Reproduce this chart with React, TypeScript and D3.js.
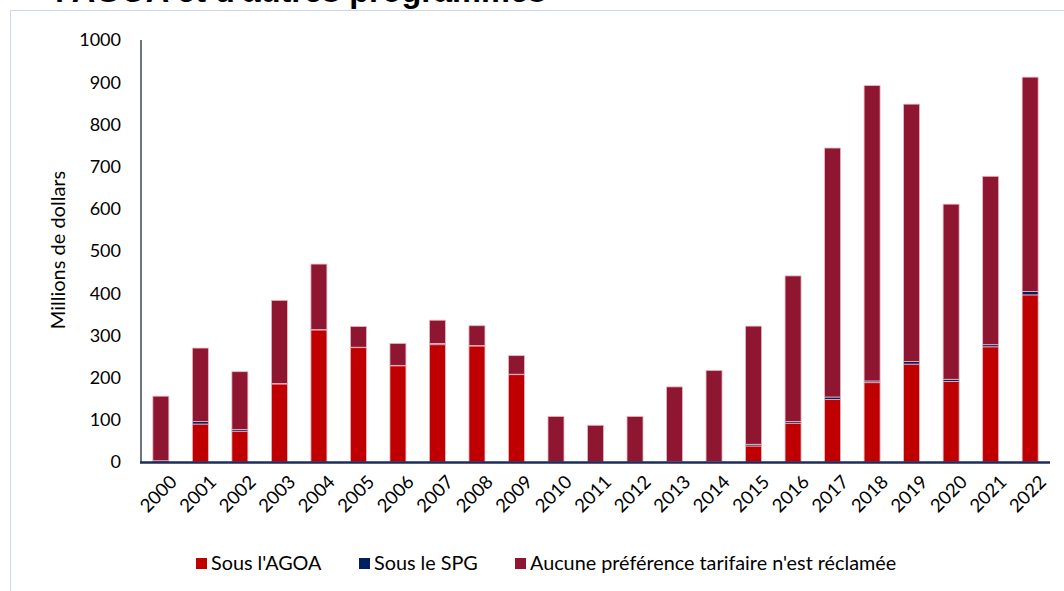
import React from 'react';
import * as d3 from 'd3';

const years = [
  '2000', '2001', '2002', '2003', '2004', '2005', '2006', '2007', '2008', '2009', '2010', '2011',
  '2012', '2013', '2014', '2015', '2016', '2017', '2018', '2019', '2020', '2021', '2022',
];
const agoa = [0, 90, 73, 185, 313, 271, 228, 278, 275, 207, 0, 0, 0, 0, 0, 38, 92, 148, 188, 232, 191, 273, 396];
const spg = [3, 6, 4, 1, 1, 1, 1, 3, 1, 1, 0, 0, 0, 1, 1, 4, 4, 6, 4, 6, 5, 5, 8];
const aucune = [153, 174, 137, 197, 155, 49, 52, 55, 47, 44, 108, 87, 108, 177, 216, 280, 345, 590, 700, 610, 415, 399, 508];
const yTicks = [0, 100, 200, 300, 400, 500, 600, 700, 800, 900, 1000];

const seriesKeys = ['agoa', 'spg', 'aucune'];
const seriesLabels = ["Sous l'AGOA", 'Sous le SPG', "Aucune préférence tarifaire n'est réclamée"];
const colors = ['#C00000', '#002060', '#8E1630'];

const FONT = 'Lato, "Open Sans", sans-serif';

export default function App() {
  const width = 1064;
  const height = 591;

  const rows = years.map((year, i) => ({ year, agoa: agoa[i], spg: spg[i], aucune: aucune[i] }));
  const stack = d3.stack().keys(seriesKeys)(rows as any);

  const xScale = d3.scaleBand().domain(years).range([141, 1050]).paddingInner(0.595).paddingOuter(0.3);
  const yScale = d3.scaleLinear().domain([0, 1000]).range([462, 40]);
  const colorScale = d3.scaleOrdinal<string>().domain(seriesKeys).range(colors);

  const legendX = [196, 359, 515];

  return (
    <svg width={width} height={height} style={{ position: 'absolute', left: 0, top: 0 }}>
      <rect x={0} y={0} width={width} height={height} fill="#fff" />
      {/* frame cut by the crop */}
      <line x1={10.5} y1={10.5} x2={width} y2={10.5} stroke="#c9d6ee" strokeWidth={1} />
      <line x1={10.5} y1={10.5} x2={10.5} y2={height} stroke="#c9d6ee" strokeWidth={1} />
      <text x={55} y={2} fontFamily="Arial, 'Liberation Sans', sans-serif" fontWeight="bold" fontSize={32.5} fill="#000">
        l'AGOA et d'autres programmes
      </text>

      {yTicks.map((t) => (
        <text key={t} x={121} y={yScale(t)} dy="0.35em" textAnchor="end" fontFamily={FONT} fontSize={18} fill="#000">
          {t}
        </text>
      ))}
      <text
        transform={`translate(65, 250) rotate(-90)`}
        textAnchor="middle"
        fontFamily={FONT}
        fontSize={20}
        fill="#000"
      >
        Millions de dollars
      </text>

      {stack.map((layer, li) => (
        <g key={seriesKeys[li]} fill={colorScale(seriesKeys[li])}>
          {layer.map((d, i) => {
            const h = yScale(d[0]) - yScale(d[1]);
            if (h <= 0) return null;
            return (
              <rect
                key={years[i]}
                x={xScale(years[i])}
                y={yScale(d[1])}
                width={xScale.bandwidth()}
                height={h}
                stroke="#eab9c3"
                strokeWidth={0.8}
              />
            );
          })}
        </g>
      ))}

      <line x1={141} y1={40} x2={141} y2={463} stroke="#3d4460" strokeWidth={1.5} />
      <line x1={140} y1={462.5} x2={1050} y2={462.5} stroke="#1c2c5e" strokeWidth={2.5} />

      {years.map((y) => {
        const cx = (xScale(y) as number) + xScale.bandwidth() / 2 + 8;
        return (
          <text
            key={y}
            transform={`translate(${cx}, 474) rotate(-45)`}
            textAnchor="end"
            dy="0.7em"
            fontFamily={FONT}
            fontSize={18.5}
            fill="#000"
          >
            {y}
          </text>
        );
      })}

      {seriesLabels.map((label, i) => (
        <g key={label} transform={`translate(${legendX[i]}, 558)`}>
          <rect x={0} y={0} width={11} height={11} fill={colors[i]} />
          <text x={15} y={11.5} fontFamily={FONT} fontSize={19.8} fill="#000">
            {label}
          </text>
        </g>
      ))}
    </svg>
  );
}
